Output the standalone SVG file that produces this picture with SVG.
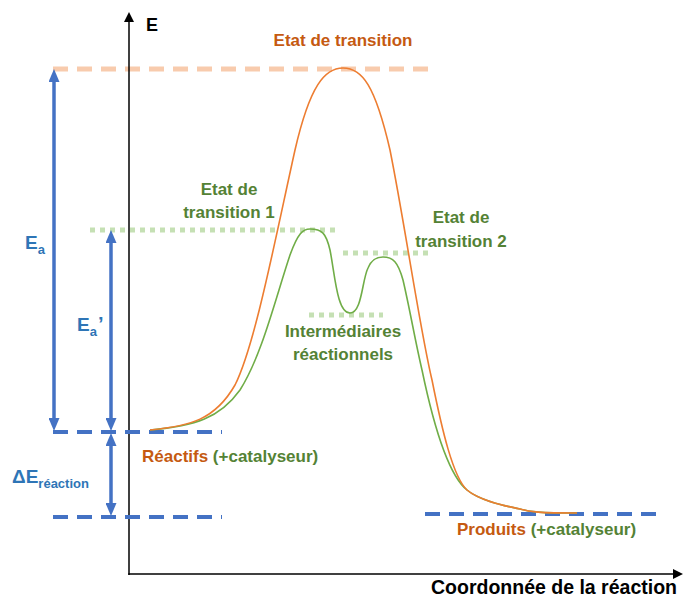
<svg xmlns="http://www.w3.org/2000/svg" width="683" height="597" viewBox="0 0 683 597">
<style>
text{font-family:"Liberation Sans",Arial,sans-serif;font-weight:bold}
.or{fill:#C55A11}.gr{fill:#548235}.bl{fill:#2E75B6}.bk{fill:#000}
.lab{font-size:17px}
.peach{stroke:#F8CBAD;stroke-width:5;stroke-dasharray:15 9;fill:none}
.dot{stroke:#C5E0B4;stroke-width:5;stroke-dasharray:5 5;fill:none}
.bdash{stroke:#4472C4;stroke-width:4;stroke-dasharray:15 9;fill:none}
.barrow{stroke:#4472C4;stroke-width:3.5;fill:none;marker-start:url(#bh);marker-end:url(#bh)}
.axis{stroke:#000;stroke-width:1.5;fill:none;marker-end:url(#ah)}
</style>
<defs>
<marker id="bh" markerUnits="userSpaceOnUse" markerWidth="13" markerHeight="11" refX="3" refY="5.5" orient="auto-start-reverse"><path d="M0,0 L13,5.5 L0,11 z" fill="#4472C4"/></marker>
<marker id="ah" markerUnits="userSpaceOnUse" markerWidth="10" markerHeight="10" refX="2" refY="5" orient="auto"><path d="M0,0 L10,5 L0,10 z" fill="#000"/></marker>
</defs>
<rect width="683" height="597" fill="#fff"/>
<g id="levels">
<line class="peach" x1="53" y1="69" x2="430" y2="69"/>
<line class="dot" x1="90" y1="230" x2="335" y2="230"/>
<line class="dot" x1="343" y1="253" x2="428" y2="253"/>
<line class="dot" x1="309" y1="315" x2="383" y2="315"/>
</g>
<g id="axes">
<line class="axis" x1="129" y1="575" x2="129" y2="20"/>
<line class="axis" x1="128.25" y1="574" x2="675" y2="574"/>
</g>
<g id="levels-blue">
<line class="bdash" x1="53" y1="432" x2="222" y2="432"/>
<line class="bdash" x1="53" y1="517" x2="222" y2="517"/>
<line class="bdash" x1="425" y1="514" x2="662" y2="514"/>
</g>
<g id="curves" fill="none" stroke-width="1.6">
<path stroke="#70AD47" d="M150,430 C195,426 220,418 240,390 C262,355 275,300 290,255 C298,233 303,229 310,229 C322,229 326,233 330,250 C335,275 337,313 350,313 C362,313 362,280 368,268 C372,258 378,257 383,257 C393,257 398,262 403,280 C410,310 415,340 422,370 C432,418 447,474 467,490 C479,500 500,505 520,509 C530,512 540,513 577,513"/>
<path stroke="#ED7D31" d="M150,430 C190,426 215,420 235,385 C255,345 275,240 295,150 C310,85 325,68 343,68 C362,68 375,85 390,150 C405,225 420,330 432,380 C442,430 453,477 467,490 C479,500 500,505 520,509 C530,512 540,513 577,513"/>
</g>
<g id="connectors">
<line class="barrow" x1="54" y1="79" x2="54" y2="421"/>
<line class="barrow" x1="111" y1="240" x2="111" y2="421"/>
<line class="barrow" x1="111" y1="443" x2="111" y2="506"/>
</g>
<g id="labels">
<text class="bk" x="146" y="31" font-size="18">E</text>
<text class="bk" x="554" y="594" font-size="19.5" text-anchor="middle">Coordonnée de la réaction</text>
<g id="ts"><text class="or lab" x="343" y="46" text-anchor="middle">Etat de transition</text></g>
<g id="ts1"><text class="gr lab" x="229" y="195" text-anchor="middle">Etat de</text><text class="gr lab" x="229" y="218" text-anchor="middle">transition 1</text></g>
<g id="ts2"><text class="gr lab" x="461" y="223" text-anchor="middle">Etat de</text><text class="gr lab" x="461" y="247" text-anchor="middle">transition 2</text></g>
<g id="inter"><text class="gr lab" x="343" y="337" text-anchor="middle">Intermédiaires</text><text class="gr lab" x="343" y="360" text-anchor="middle">réactionnels</text></g>
<g id="reactifs"><text class="lab" x="142" y="462"><tspan class="or">Réactifs</tspan><tspan class="gr"> (+catalyseur)</tspan></text></g>
<g id="produits"><text class="lab" x="457" y="535"><tspan class="or">Produits</tspan><tspan class="gr"> (+catalyseur)</tspan></text></g>
<g id="ea"><text class="bl" x="25" y="249" font-size="19">E<tspan font-size="13" dy="5">a</tspan></text></g>
<g id="ea2"><text class="bl" x="77" y="331" font-size="19">E<tspan font-size="13" dy="5">a</tspan><tspan dy="-5" dx="1" font-size="20">’</tspan></text></g>
<g id="de"><text class="bl" x="12" y="483" font-size="19">ΔE<tspan font-size="13" dy="5">réaction</tspan></text></g>
</g>
</svg>
